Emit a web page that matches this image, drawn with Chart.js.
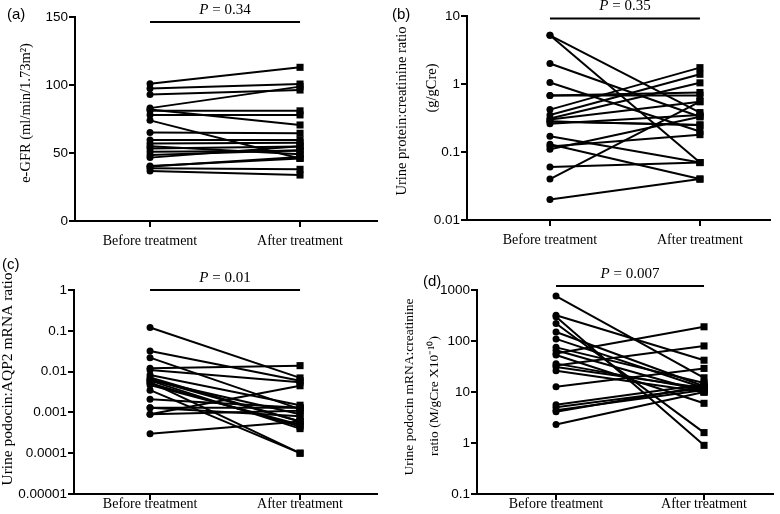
<!DOCTYPE html>
<html>
<head>
<meta charset="utf-8">
<script src="https://cdn.jsdelivr.net/npm/chart.js@4.4.0/dist/chart.umd.min.js"></script>
<style>
  body { margin: 0; background: #fff; }
  #wrap { position: relative; width: 780px; height: 514px; }
  canvas { position: absolute; }
</style>
</head>
<body>
<div id="wrap">
  <canvas id="chartA" width="390" height="257" style="left:0;top:0"></canvas>
  <canvas id="chartB" width="390" height="257" style="left:390px;top:0"></canvas>
  <canvas id="chartC" width="390" height="257" style="left:0;top:257px"></canvas>
  <canvas id="chartD" width="390" height="257" style="left:390px;top:257px"></canvas>
</div>
<script>
// groups on the x axis
const groups = ["Before treatment", "After treatment"];

// (a) e-GFR
const egfrBefore = [101, 97.5, 93, 83, 82, 81, 78, 74, 65, 59.6, 57, 55, 53.4, 51, 48.5, 46.6, 40.4, 38.7, 36.8, 40];
const egfrAfter = [113, 100.7, 96.3, 98.8, 70.6, 81, 78, 46, 64.5, 59.6, 57.6, 49, 54.7, 51.7, 52, 55, 46, 38, 33.8, 47];
const egfrTicks = [0, 50, 100, 150];

// (b) urine protein:creatinine ratio
const upcrBefore = [5.2, 5.2, 2.0, 1.05, 0.68, 0.68, 0.42, 0.35, 0.31, 0.30, 0.28, 0.26, 0.17, 0.13, 0.12, 0.11, 0.06, 0.04, 0.02, 0.28];
const upcrAfter = [0.07, 0.38, 0.33, 0.2, 0.68, 0.75, 1.74, 1.39, 1.04, 0.55, 0.25, 0.35, 0.07, 0.04, 0.18, 0.33, 0.07, 0.55, 0.04, 0.25];
const upcrTicks = [0.01, 0.1, 1, 10];

// (c) urine podocin:AQP2 mRNA ratio
const aqpBefore = [0.12, 0.032, 0.022, 0.012, 0.011, 0.0083, 0.0072, 0.0062, 0.0055, 0.0052, 0.0047, 0.0035, 0.0021, 0.0013, 0.0013, 0.0009, 0.0009, 0.0003, 0.006, 0.0065];
const aqpAfter = [0.007, 0.006, 0.0012, 0.014, 0.0055, 0.0015, 0.0006, 0.0009, 0.0001, 0.00045, 0.0005, 0.0001, 0.0013, 0.0013, 0.0008, 0.0045, 0.0011, 0.0006, 0.0004, 0.0006];
const aqpTicks = [0.00001, 0.0001, 0.001, 0.01, 0.1, 1];

// (d) urine podocin mRNA:creatinine ratio
const podBefore = [760, 320, 300, 220, 150, 110, 75, 66, 57, 53, 36, 33, 31, 26, 12.7, 5.6, 5.0, 4.4, 4.1, 2.3];
const podAfter = [19, 42, 0.9, 1.6, 13, 12, 15, 10, 190, 6, 11, 80, 12, 10, 29, 14, 12, 11, 13, 10];
const podTicks = [0.1, 1, 10, 100, 1000];

const pValues = ["0.34", "0.35", "0.01", "0.007"];
const panelTags = ["(a)", "(b)", "(c)", "(d)"];

const serif = '"Liberation Serif", "Times New Roman", serif';
const sans = '"Liberation Sans", Arial, sans-serif';

// draws bracket + P value, panel tag and the y title
const panelDecor = {
  id: "panelDecor",
  afterDraw(chart, args, opts) {
    const { ctx, chartArea, scales } = chart;
    const x0 = scales.x.getPixelForValue(0);
    const x1 = scales.x.getPixelForValue(1);
    const by = chartArea.top + opts.bracketDy;
    ctx.save();
    ctx.strokeStyle = "#000";
    ctx.lineWidth = 2;
    ctx.beginPath();
    ctx.moveTo(x0, by);
    ctx.lineTo(x1, by);
    ctx.stroke();

    ctx.fillStyle = "#000";
    ctx.textBaseline = "middle";
    ctx.textAlign = "left";
    const rest = " = " + opts.p;
    ctx.font = "italic 15px " + serif;
    const pW = ctx.measureText("P").width;
    ctx.font = "15px " + serif;
    const rW = ctx.measureText(rest).width;
    const sx = (x0 + x1) / 2 - (pW + rW) / 2;
    ctx.font = "italic 15px " + serif;
    ctx.fillText("P", sx, by - 12);
    ctx.font = "15px " + serif;
    ctx.fillText(rest, sx + pW, by - 12);

    ctx.font = "15px " + sans;
    ctx.fillText(opts.tag, opts.tagPos[0], opts.tagPos[1]);

    ctx.font = opts.titleSize + "px " + serif;
    ctx.textAlign = "center";
    opts.title.forEach((t, i) => {
      const [tx, ty] = opts.titlePos[i];
      ctx.save();
      ctx.translate(tx, ty);
      ctx.rotate(-Math.PI / 2);
      ctx.fillText(t, 0, 0);
      ctx.restore();
    });
    ctx.restore();
  },
};

function drawPanel(id, before, after, yType, yTicks, deco, box) {
  const datasets = before.map((b, i) => ({
    data: [{ x: 0, y: b }, { x: 1, y: after[i] }],
    borderColor: "#000",
    backgroundColor: "#000",
    borderWidth: 2,
    pointStyle: ["circle", "rect"],
    pointRadius: [3.5, 5],
    pointBackgroundColor: "#000",
    pointBorderWidth: 0,
  }));
  const axisGrid = {
    display: true,
    drawOnChartArea: false,
    drawTicks: true,
    tickLength: 6,
    color: "#000",
    lineWidth: 2,
  };
  return new Chart(document.getElementById(id), {
    type: "line",
    plugins: [panelDecor],
    data: { datasets },
    options: {
      responsive: false,
      animation: false,
      events: [],
      layout: { padding: { top: box.top, right: 390 - box.right, left: 0, bottom: 0 } },
      plugins: {
        legend: { display: false },
        tooltip: { enabled: false },
        panelDecor: deco,
      },
      scales: {
        x: {
          type: "linear",
          min: box.xMin,
          max: box.xMax,
          grid: axisGrid,
          border: { display: true, color: "#000", width: 2 },
          afterBuildTicks: (s) => { s.ticks = [{ value: 0 }, { value: 1 }]; },
          afterFit: (s) => { s.height = 257 - box.bottom; },
          ticks: {
            color: "#000",
            padding: box.xPad,
            maxRotation: 0,
            font: { family: serif, size: 14 },
            callback: (v) => groups[v],
          },
        },
        y: {
          type: yType,
          min: yTicks[0],
          max: yTicks[yTicks.length - 1],
          grid: axisGrid,
          border: { display: true, color: "#000", width: 2 },
          afterBuildTicks: (s) => { s.ticks = yTicks.map((v) => ({ value: v })); },
          afterFit: (s) => { s.width = box.left; },
          ticks: {
            color: "#000",
            padding: 1,
            font: { family: sans, size: 13.5 },
            callback: (v) => String(v),
          },
        },
      },
    },
  });
}

drawPanel("chartA", egfrBefore, egfrAfter, "linear", egfrTicks,
  { p: pValues[0], tag: panelTags[0], tagPos: [7, 15], bracketDy: 5, titleSize: 14.5,
    title: ["e-GFR (ml/min/1.73m\u00B2)"], titlePos: [[26, 113]] },
  { left: 75, top: 17, bottom: 221, right: 377, xMin: -0.5, xMax: 1.513, xPad: 6 });

drawPanel("chartB", upcrBefore, upcrAfter, "logarithmic", upcrTicks,
  { p: pValues[1], tag: panelTags[1], tagPos: [2, 15], bracketDy: 2.5, titleSize: 14.5,
    title: ["Urine protein:creatinine ratio", "(g/gCre)"], titlePos: [[12, 111], [42, 88]] },
  { left: 77, top: 16, bottom: 220, right: 380, xMin: -0.553, xMax: 1.467, xPad: 6 });

drawPanel("chartC", aqpBefore, aqpAfter, "logarithmic", aqpTicks,
  { p: pValues[2], tag: panelTags[2], tagPos: [2, 8], bracketDy: 0, titleSize: 15.5,
    title: ["Urine podocin:AQP2 mRNA ratio"], titlePos: [[8, 122]] },
  { left: 74, top: 33, bottom: 237, right: 377, xMin: -0.507, xMax: 1.513, xPad: -4 });

drawPanel("chartD", podBefore, podAfter, "logarithmic", podTicks,
  { p: pValues[3], tag: panelTags[3], tagPos: [33, 25], bracketDy: -4, titleSize: 13.5,
    title: ["Urine podocin mRNA:creatinine", "ratio (M/gCre X10\u207B\u00B9\u2070)"], titlePos: [[19, 130], [44, 139]] },
  { left: 87, top: 33, bottom: 237, right: 383, xMin: -0.534, xMax: 1.466, xPad: -4 });
</script>
</body>
</html>
